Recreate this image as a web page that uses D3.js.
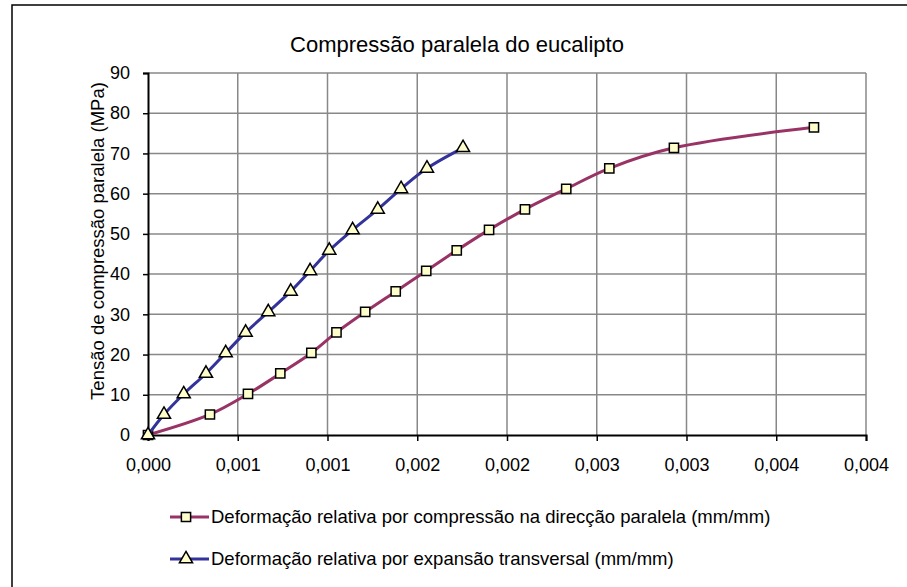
<!DOCTYPE html>
<html>
    <head>
        <title>Compressão paralela do eucalipto</title>
        <style>
            body { margin: 0; background: #fff; }
            svg text { font-family: "Liberation Sans", Arial, sans-serif; fill: #000; }
        </style>
        <script src="https://cdnjs.cloudflare.com/ajax/libs/d3/7.8.5/d3.min.js"></script>
    </head>
    <body>
        <div id="chart"></div>
        <script>
            // values
            const stressLevels = [0, 5.1, 10.2, 15.3, 20.4, 25.5, 30.6, 35.7, 40.8, 45.9, 51.0, 56.1, 61.2, 66.3, 71.4, 76.5];
            const strainParallel = [0, 0.000345, 0.000557, 0.000737, 0.00091, 0.00105, 0.00121, 0.00138, 0.00155, 0.00172, 0.0019, 0.0021, 0.00233, 0.00257, 0.00293, 0.00371];
            const strainTransverse = [0, 0.000089, 0.000199, 0.000323, 0.000433, 0.000544, 0.00067, 0.000795, 0.000903, 0.00101, 0.00114, 0.00128, 0.00141, 0.001554, 0.001755];
            const xTicks = [0, 0.0005, 0.001, 0.0015, 0.002, 0.0025, 0.003, 0.0035, 0.004];
            const xTickLabels = ["0,000", "0,001", "0,001", "0,002", "0,002", "0,003", "0,003", "0,004", "0,004"];
            const yTicks = [0, 10, 20, 30, 40, 50, 60, 70, 80, 90];
            const seriesNames = [
                "Deformação relativa por compressão na direcção paralela (mm/mm)",
                "Deformação relativa por expansão transversal (mm/mm)"
            ];

            const w = 907, h = 587;
            const plotLeft = 148, plotRight = 866, plotTop = 73, plotBottom = 435;

            const svg = d3.select("#chart").append("svg")
                .attr("width", w)
                .attr("height", h);

            // outer frame (cut off at right/bottom in the original)
            svg.append("rect")
                .attr("x", 12).attr("y", 5)
                .attr("width", 910).attr("height", 600)
                .attr("fill", "none").attr("stroke", "#000").attr("stroke-width", 1.5);

            const xScale = d3.scaleLinear().domain([0, 0.004]).range([plotLeft, plotRight]);
            const yScale = d3.scaleLinear().domain([0, 90]).range([plotBottom, plotTop]);

            // grid
            svg.append("g").selectAll("line").data(yTicks.slice(1)).enter().append("line")
                .attr("x1", plotLeft).attr("x2", plotRight)
                .attr("y1", d => yScale(d)).attr("y2", d => yScale(d))
                .attr("stroke", "#888").attr("stroke-width", 1.5);
            svg.append("g").selectAll("line").data(xTicks.slice(1)).enter().append("line")
                .attr("x1", d => xScale(d)).attr("x2", d => xScale(d))
                .attr("y1", plotTop).attr("y2", plotBottom)
                .attr("stroke", "#888").attr("stroke-width", 1.5);

            // axes
            const xAxis = d3.axisBottom(xScale).tickValues(xTicks)
                .tickFormat((d, i) => xTickLabels[i]).tickSizeOuter(0).tickSize(6).tickPadding(17);
            const yAxis = d3.axisLeft(yScale).tickValues(yTicks)
                .tickSizeOuter(0).tickSize(5).tickPadding(13);

            const gx = svg.append("g").attr("transform", "translate(0," + plotBottom + ")").call(xAxis);
            const gy = svg.append("g").attr("transform", "translate(" + plotLeft + ",0)").call(yAxis);
            [gx, gy].forEach(g => {
                g.select(".domain").attr("stroke", "#000").attr("stroke-width", 2);
                g.selectAll(".tick line").attr("stroke", "#000").attr("stroke-width", 1.5);
                g.selectAll("text").style("font-size", "18px").attr("font-family", null);
            });

            // title and axis label
            svg.append("text")
                .attr("x", 457).attr("y", 52)
                .attr("text-anchor", "middle")
                .style("font-size", "22px")
                .text("Compressão paralela do eucalipto");

            svg.append("text")
                .attr("transform", "translate(104,241) rotate(-90)")
                .attr("text-anchor", "middle")
                .style("font-size", "18.5px")
                .text("Tensão de compressão paralela  (MPa)");

            // series
            const series = [
                { name: seriesNames[0], xs: strainParallel, color: "#993366", marker: "square" },
                { name: seriesNames[1], xs: strainTransverse, color: "#333399", marker: "triangle" }
            ];
            const line = d3.line()
                .x(d => xScale(d[0])).y(d => yScale(d[1]))
                .curve(d3.curveCatmullRom.alpha(0.5));

            const square = d3.symbol().type(d3.symbolSquare).size(85);
            const triangle = d3.symbol().type(d3.symbolTriangle).size(75);

            series.forEach(s => {
                const pts = s.xs.map((x, i) => [x, stressLevels[i]]);
                svg.append("path")
                    .datum(pts)
                    .attr("d", line)
                    .attr("fill", "none")
                    .attr("stroke", s.color)
                    .attr("stroke-width", 3);
                svg.append("g").selectAll("path").data(pts).enter().append("path")
                    .attr("d", s.marker === "square" ? square : triangle)
                    .attr("transform", d => "translate(" + xScale(d[0]) + "," + yScale(d[1]) + ")")
                    .attr("fill", "#ffffcc")
                    .attr("stroke", "#000")
                    .attr("stroke-width", 1.5);
            });

            // legend
            const legendY = [517, 559];
            series.forEach((s, i) => {
                const g = svg.append("g").attr("transform", "translate(0," + legendY[i] + ")");
                g.append("line").attr("x1", 170).attr("x2", 209).attr("y1", 0).attr("y2", 0)
                    .attr("stroke", s.color).attr("stroke-width", 3);
                g.append("path")
                    .attr("d", s.marker === "square" ? square : triangle)
                    .attr("transform", "translate(186,0)")
                    .attr("fill", "#ffffcc").attr("stroke", "#000").attr("stroke-width", 1.5);
                g.append("text")
                    .attr("x", 211).attr("y", 0).attr("dy", "0.35em")
                    .style("font-size", "18.5px")
                    .text(s.name);
            });
        </script>
    </body>
</html>
